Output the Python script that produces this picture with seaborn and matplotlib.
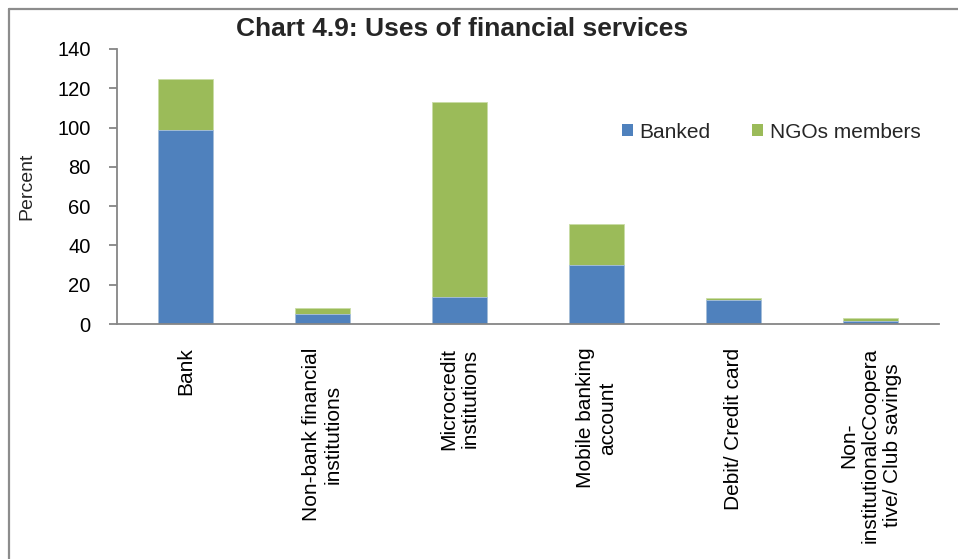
import matplotlib
matplotlib.use("Agg")
import matplotlib.pyplot as plt
from matplotlib.lines import Line2D
from matplotlib.patches import Patch
import numpy as np
import pandas as pd
import seaborn as sns

categories = [
    "Bank",
    "Non-bank financial\ninstitutions",
    "Microcredit\ninstitutions",
    "Mobile banking\naccount",
    "Debit/ Credit card",
    "Non-\ninstitutionalcCoopera\ntive/ Club savings",
]
banked = [99.0, 5.1, 13.9, 30.2, 12.4, 1.7]
ngo_members = [25.7, 3.0, 99.3, 20.6, 0.8, 1.3]
series_names = ["Banked", "NGOs members"]
y_ticks = [0, 20, 40, 60, 80, 100, 120, 140]

BLUE = "#4F81BD"
GREEN = "#9BBB59"
AXIS_GREY = "#868686"

sns.set_theme(style="white")
plt.rcParams["font.family"] = ["Liberation Sans", "DejaVu Sans"]

df = pd.DataFrame({"category": categories, "banked": banked, "ngo": ngo_members})
df["total"] = df["banked"] + df["ngo"]

fig = plt.figure(figsize=(9.58, 5.59), dpi=100)
ax = fig.add_axes([117 / 958, 1 - 324 / 559, (939 - 117) / 958, (324 - 49) / 559])

# stacked columns: full height in green, banked share in blue on top of it
sns.barplot(data=df, x="category", y="total", color=GREEN, width=0.4,
            saturation=1, edgecolor="#C9DDA6", linewidth=0.6, ax=ax)
sns.barplot(data=df, x="category", y="banked", color=BLUE, width=0.4,
            saturation=1, edgecolor="#A9C1E0", linewidth=0.6, ax=ax)

ax.set_xlim(-0.5, len(categories) - 0.5)
ax.set_ylim(0, 140)
ax.set_yticks(y_ticks)
ax.set_yticklabels([str(v) for v in y_ticks], fontsize=14.5, color="black")
ax.set_xlabel("")
ax.set_ylabel("")

ax.set_xticks(range(len(categories)))
ax.set_xticklabels(categories, rotation=90, ha="center", va="top",
                   multialignment="center", fontsize=15, color="black")
ax.set_xticks(np.arange(-0.5, len(categories)), minor=True)
ax.tick_params(axis="x", which="major", length=0, pad=17)
ax.tick_params(axis="x", which="minor", direction="inout", length=11,
               width=1.3, color=AXIS_GREY)
ax.tick_params(axis="y", which="major", direction="out", length=6,
               width=1.3, color=AXIS_GREY, pad=13, left=True)

for side in ("top", "right"):
    ax.spines[side].set_visible(False)
for side in ("left", "bottom"):
    ax.spines[side].set_color(AXIS_GREY)
    ax.spines[side].set_linewidth(1.3)
ax.grid(False)

handles = [Patch(facecolor=BLUE, edgecolor="none"),
           Patch(facecolor=GREEN, edgecolor="none")]
ax.legend(handles, series_names, ncol=2, frameon=False, fontsize=15,
          loc="center", bbox_to_anchor=((771 - 117) / 822, (324 - 132) / 275),
          handlelength=0.55, handleheight=0.55, handletextpad=0.3,
          columnspacing=2.0, borderpad=0)

fig.text(462 / 958, 1 - 29 / 559, "Chart 4.9: Uses of financial services",
         ha="center", va="center", fontsize=19, fontweight="bold")
fig.text(27 / 958, 1 - 186 / 559, "Percent", rotation=90,
         ha="center", va="center", fontsize=14)

# chart frame
fig.add_artist(Line2D([9 / 958, 1.0], [1 - 9 / 559, 1 - 9 / 559],
                      transform=fig.transFigure, color="#8C8C8C", lw=1.6))
fig.add_artist(Line2D([9 / 958, 9 / 958], [0.0, 1 - 9 / 559],
                      transform=fig.transFigure, color="#8C8C8C", lw=1.6))

fig.savefig("out.png", dpi=100, facecolor="white")
